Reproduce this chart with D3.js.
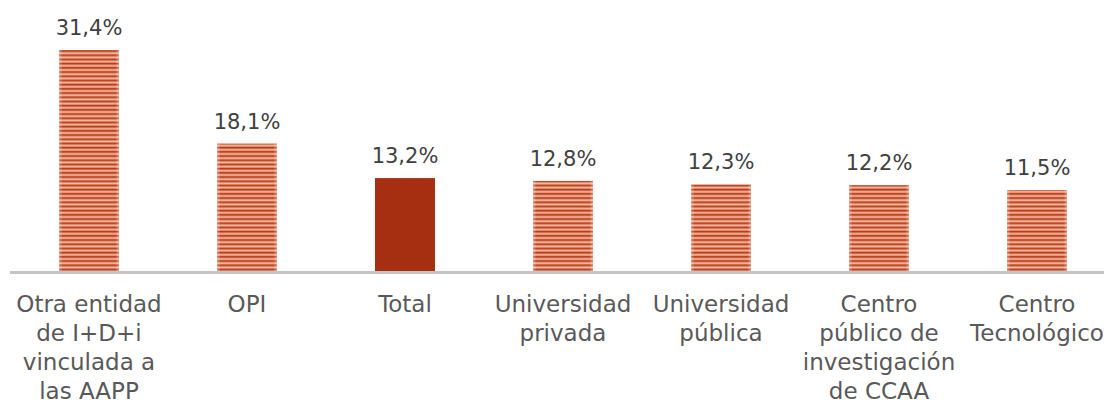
<html>
<head>
<meta charset="utf-8">
<script src="https://d3js.org/d3.v7.min.js"></script>
<style>
  body { margin: 0; background: #fff; }
  svg { display: block; }
</style>
</head>
<body>
<div id="chart"></div>
<script>
  // data
  const categories = [
    ["Otra entidad", "de I+D+i", "vinculada a", "las AAPP"],
    ["OPI"],
    ["Total"],
    ["Universidad", "privada"],
    ["Universidad", "pública"],
    ["Centro", "público de", "investigación", "de CCAA"],
    ["Centro", "Tecnológico"]
  ];
  const values = [31.4, 18.1, 13.2, 12.8, 12.3, 12.2, 11.5];
  const highlight = [false, false, true, false, false, false, false];

  const width = 1104;
  const height = 400;
  const baseY = 271;
  const font = "'DejaVu Sans', sans-serif";

  const svg = d3.select("#chart")
    .append("svg")
    .attr("width", width)
    .attr("height", height);

  // striped fill for the bars
  const defs = svg.append("defs");
  const grad = defs.append("linearGradient")
    .attr("id", "stripeGrad")
    .attr("x1", 0).attr("y1", 0).attr("x2", 0).attr("y2", 1);
  grad.append("stop").attr("offset", "0%").attr("stop-color", "#ad2d0e");
  grad.append("stop").attr("offset", "25%").attr("stop-color", "#c24a27");
  grad.append("stop").attr("offset", "65%").attr("stop-color", "#f7c6ad");
  grad.append("stop").attr("offset", "100%").attr("stop-color", "#d66c4a");
  const pat = defs.append("pattern")
    .attr("id", "stripes")
    .attr("patternUnits", "userSpaceOnUse")
    .attr("width", 8).attr("height", 4.2);
  pat.append("rect").attr("width", 8).attr("height", 4.2).attr("fill", "url(#stripeGrad)");

  // side fade for the striped bars
  const side = defs.append("linearGradient")
    .attr("id", "sideFade")
    .attr("x1", 0).attr("y1", 0).attr("x2", 1).attr("y2", 0);
  side.append("stop").attr("offset", "0%").attr("stop-color", "#fff").attr("stop-opacity", 0.35);
  side.append("stop").attr("offset", "6%").attr("stop-color", "#fff").attr("stop-opacity", 0);
  side.append("stop").attr("offset", "94%").attr("stop-color", "#fff").attr("stop-opacity", 0);
  side.append("stop").attr("offset", "100%").attr("stop-color", "#fff").attr("stop-opacity", 0.35);

  const x = d3.scaleBand()
    .domain(d3.range(values.length))
    .range([10, 10 + 158 * values.length])
    .paddingInner(0.62)
    .paddingOuter(0.31);

  const y = d3.scaleLinear()
    .domain([0, 31.4])
    .range([baseY, 50]);

  const bars = svg.append("g");
  values.forEach((v, i) => {
    bars.append("rect")
      .attr("x", x(i))
      .attr("y", y(v))
      .attr("width", x.bandwidth())
      .attr("height", baseY - y(v))
      .style("fill", highlight[i] ? "#a52f10" : "url(#stripes)");
    if (!highlight[i]) {
      bars.append("rect")
        .attr("x", x(i))
        .attr("y", y(v))
        .attr("width", x.bandwidth())
        .attr("height", baseY - y(v))
        .style("fill", "url(#sideFade)");
    }
    svg.append("text")
      .attr("x", x(i) + x.bandwidth() / 2)
      .attr("y", y(v) - 15)
      .attr("text-anchor", "middle")
      .style("font-family", font)
      .style("font-size", "21px")
      .style("fill", "#404040")
      .text(d3.format(".1f")(v).replace(".", ",") + "%");
  });

  // axis line
  svg.append("line")
    .attr("x1", 10).attr("x2", width)
    .attr("y1", baseY + 1.5).attr("y2", baseY + 1.5)
    .style("stroke", "#c4c4c4")
    .style("stroke-width", 3);

  // category labels
  categories.forEach((lines, i) => {
    const t = svg.append("text")
      .attr("text-anchor", "middle")
      .style("font-family", font)
      .style("font-size", "23px")
      .style("fill", "#595959");
    lines.forEach((s, k) => {
      t.append("tspan")
        .attr("x", x(i) + x.bandwidth() / 2)
        .attr("y", 312 + k * 29)
        .text(s);
    });
  });
</script>
</body>
</html>
